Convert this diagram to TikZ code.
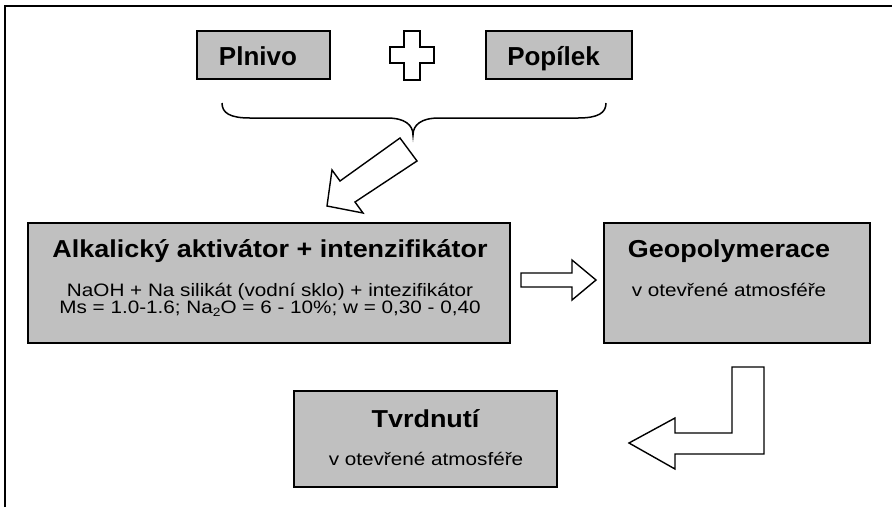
\documentclass[tikz,border=0pt]{standalone}
\usepackage{fontspec}
\setmainfont{Liberation Sans}
\newfontfamily\wfont[FakeStretch=1.15]{Liberation Sans}
\newfontfamily\hfont[FakeStretch=1.1]{Liberation Sans}
\newfontfamily\tfont[FakeStretch=1.0]{Liberation Sans}
\definecolor{boxgray}{HTML}{C0C0C0}
\begin{document}
\begin{tikzpicture}[x=1pt,y=-1pt,
  box/.style={draw=black, fill=boxgray, line width=1.6pt},
  shapeline/.style={draw=black, fill=white, line width=1.4pt, line join=miter},
  txt/.style={anchor=base, inner sep=0pt, outer sep=0pt},
  toplabel/.style={txt, font=\tfont\bfseries\fontsize{26}{26}\selectfont},
  title/.style={txt, font=\hfont\bfseries\fontsize{24.5}{25}\selectfont},
  body/.style={txt, font=\wfont\fontsize{18}{19}\selectfont}]
\useasboundingbox (0,0) rectangle (892,507);
% frame
\draw[line width=2pt] (5,507) -- (5,6) -- (892,6);
% top boxes
\draw[box] (197,31) rectangle (330,79);
\node[toplabel] (plnivo) at (258,65.5) {Plnivo};
\draw[box] (486,31) rectangle (632,79);
\node[toplabel] (popilek) at (553.5,65.5) {Popílek};
% plus sign
\draw[shapeline] (404,31) -- (420,31) -- (420,47) -- (434,47) -- (434,63) -- (420,63) -- (420,80) -- (404,80) -- (404,63) -- (390,63) -- (390,47) -- (404,47) -- cycle;
% brace
\draw[line width=1.5pt] (222,103) .. controls (222,113) and (230,118) .. (250,118) -- (387,118)
  .. controls (405,118) and (413,125) .. (413,135)
  .. controls (413,125) and (421,118) .. (439,118) -- (578,118)
  .. controls (598,118) and (606,113) .. (606,103);
% diagonal block arrow
\draw[shapeline] (400,138) -- (417,161) -- (355,202) -- (363,213) -- (327,206) -- (332,170) -- (340,181) -- cycle;
% Alkalicky box
\draw[box] (28,223) rectangle (510,343);
\node[title] (alkt) at (270,257) {Alkalický aktivátor + intenzifikátor};
\node[body] (alk1) at (270,296) {NaOH + Na silikát (vodní sklo) + intezifikátor};
\node[body] (alk2) at (270,313.5) {Ms = 1.0-1.6; Na{\fontsize{12}{12}\selectfont\raisebox{-2.5pt}{2}}O = 6 - 10\%; w = 0,30 - 0,40};
% right block arrow
\draw[shapeline] (521,273) -- (572,273) -- (572,260) -- (596,280) -- (572,300) -- (572,287) -- (521,287) -- cycle;
% Geopolymerace box
\draw[box] (604,223) rectangle (870,343);
\node[title] (geot) at (729,257) {Geopolymerace};
\node[body] (geo1) at (729,296) {v otevřené atmosféře};
% bent block arrow
\draw[shapeline] (732,367) -- (764,367) -- (764,454) -- (675,454) -- (675,469) -- (629,443) -- (675,418) -- (675,433) -- (732,433) -- cycle;
% Tvrdnuti box
\draw[box] (294,391) rectangle (557,487);
\node[title] (tvrt) at (425.5,427) {Tvrdnutí};
\node[body] (tvr1) at (426,465) {v otevřené atmosféře};
\end{tikzpicture}
\end{document}
